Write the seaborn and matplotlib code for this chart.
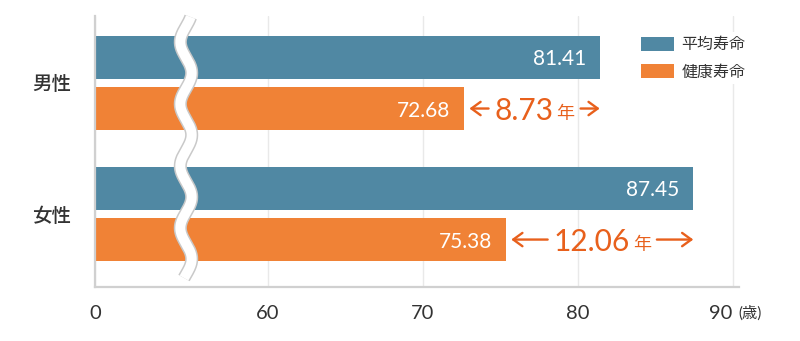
import numpy as np
import pandas as pd
import matplotlib
matplotlib.use('Agg')
import matplotlib.pyplot as plt
import matplotlib.transforms as mtransforms
import seaborn as sns

# ---- data ----
genders = ['男性', '女性']
series = ['平均寿命', '健康寿命']
avg_life = [81.41, 87.45]
healthy_life = [72.68, 75.38]
gap_labels = ['8.73', '12.06']
gap_unit = '年'
tick_values = [0, 60, 70, 80, 90]
tick_labels = ['0', '60', '70', '80', '90']
unit_label = '(歳)'

BLUE = '#5088a3'
ORANGE = '#f08236'
ACCENT = '#e8601c'
TEXT = '#333333'
GRID = '#e9e9e9'
SPINE = '#d0d0d0'

sns.set_theme(style='white')
plt.rcParams['font.family'] = ['Lato', 'Noto Sans CJK JP', 'DejaVu Sans']

df = pd.DataFrame({
    '性別': genders * 2,
    '種類': [series[0]] * len(genders) + [series[1]] * len(genders),
    '年齢': avg_life + healthy_life,
})

W, H = 800, 341
fig = plt.figure(figsize=(W / 100, H / 100), dpi=100)
ax = fig.add_axes([95 / W, 1 - 287 / H, 644 / W, 271 / H])

sns.barplot(data=df, y='性別', x='年齢', hue='種類', hue_order=series,
            orient='h', palette=[BLUE, ORANGE], width=0.78, gap=0.15,
            saturation=1, ax=ax, linewidth=0)

# broken axis: compress 0..60
K = 11.16 / 60


def fwd(x):
    x = np.asarray(x, float)
    return np.where(x < 60, x * K, 60 * K + (x - 60))


def inv(u):
    u = np.asarray(u, float)
    return np.where(u < 60 * K, u / K, u - 60 * K + 60)


ax.set_xscale('function', functions=(fwd, inv))
ax.set_xlim(0, 90.4)
ax.set_ylim(1.557, -0.511)
ax.set_xlabel('')
ax.set_ylabel('')

ax.set_xticks(tick_values)
ax.set_xticklabels(tick_labels)
ax.tick_params(axis='x', length=0, pad=13, labelsize=14.5, labelcolor=TEXT)
ax.tick_params(axis='y', length=0, pad=17, labelsize=14, labelcolor=TEXT)
for t in ax.get_yticklabels():
    t.set_fontweight('medium')
ax.get_xticklabels()[-1].set_ha('right')
ax.set_axisbelow(True)
ax.xaxis.grid(True, color=GRID, lw=1)
ax.yaxis.grid(False)
for s in ['top', 'right']:
    ax.spines[s].set_visible(False)
for s in ['left', 'bottom']:
    ax.spines[s].set_color(SPINE)
    ax.spines[s].set_linewidth(1.6)

ax.annotate(unit_label, xy=(90, 0), xycoords=('data', 'axes fraction'),
            xytext=(4, -18.7), textcoords='offset points', ha='left',
            va='center', fontsize=11, color=TEXT)

# value labels inside bars
offs = 0.195
for i, (a, h) in enumerate(zip(avg_life, healthy_life)):
    for val, yc in ((a, i - offs), (h, i + offs)):
        ax.annotate(f'{val:.2f}', xy=(val, yc), xytext=(-10, 0),
                    textcoords='offset points', ha='right',
                    va='center_baseline', color='white', fontsize=15)

# axis-break wave (decoration)
t_px = np.linspace(17, 278, 500)
x_px = 186 - 5.7 * np.cos(2 * np.pi * (t_px - 42) / 62)
xa = (x_px - 95) / 644
ya = (287 - t_px) / 271
ax.plot(xa, ya, transform=ax.transAxes, color='#c9c9c9', lw=9.4,
        solid_capstyle='butt', zorder=3, clip_on=False)
ax.plot(xa, ya, transform=ax.transAxes, color='white', lw=7.2,
        solid_capstyle='butt', zorder=4, clip_on=False)

# legend
handles, labels = ax.get_legend_handles_labels()
leg = ax.legend(handles, labels, loc='upper left',
                bbox_to_anchor=(636 / W, 1 - 32 / H),
                bbox_transform=fig.transFigure, frameon=True, fontsize=11.5,
                handlelength=2.1, handleheight=0.95, handletextpad=0.45,
                labelspacing=0.75, borderpad=0.3, borderaxespad=0,
                fancybox=False)
leg.get_frame().set_facecolor('white')
leg.get_frame().set_edgecolor('none')
leg.get_frame().set_alpha(1)
for t in leg.get_texts():
    t.set_color(TEXT)

# gap annotations
fig.canvas.draw()
renderer = fig.canvas.get_renderer()
ident = mtransforms.IdentityTransform()
for i, (a, h, g) in enumerate(zip(avg_life, healthy_life, gap_labels)):
    yc = i + offs
    x_or, y_px = ax.transData.transform((h, yc))
    x_bl = ax.transData.transform((a, yc))[0]
    start = x_or + 5
    end = x_bl
    t_num = fig.text(0, y_px, g, fontsize=21.5, color=ACCENT, ha='left',
                     va='center_baseline', transform=ident)
    t_nen = fig.text(0, y_px - 10, gap_unit, fontsize=13, color=ACCENT,
                     ha='left', va='baseline', transform=ident)
    w_num = t_num.get_window_extent(renderer).width
    w_nen = t_nen.get_window_extent(renderer).width
    sp = 3
    total = w_num + sp + w_nen
    left = (start + end) / 2 - total / 2
    t_num.set_x(left)
    t_nen.set_x(left + w_num + sp)
    style = '->,head_length=0.55,head_width=0.4'
    ax.annotate('', xy=(start, y_px), xycoords=ident,
                xytext=(left - 6, y_px), textcoords=ident,
                arrowprops=dict(arrowstyle=style, color=ACCENT, lw=1.7,
                                shrinkA=0, shrinkB=0, mutation_scale=12))
    ax.annotate('', xy=(end, y_px), xycoords=ident,
                xytext=(left + total + 6, y_px), textcoords=ident,
                arrowprops=dict(arrowstyle=style, color=ACCENT, lw=1.7,
                                shrinkA=0, shrinkB=0, mutation_scale=12))

fig.savefig('out.png', dpi=100)
